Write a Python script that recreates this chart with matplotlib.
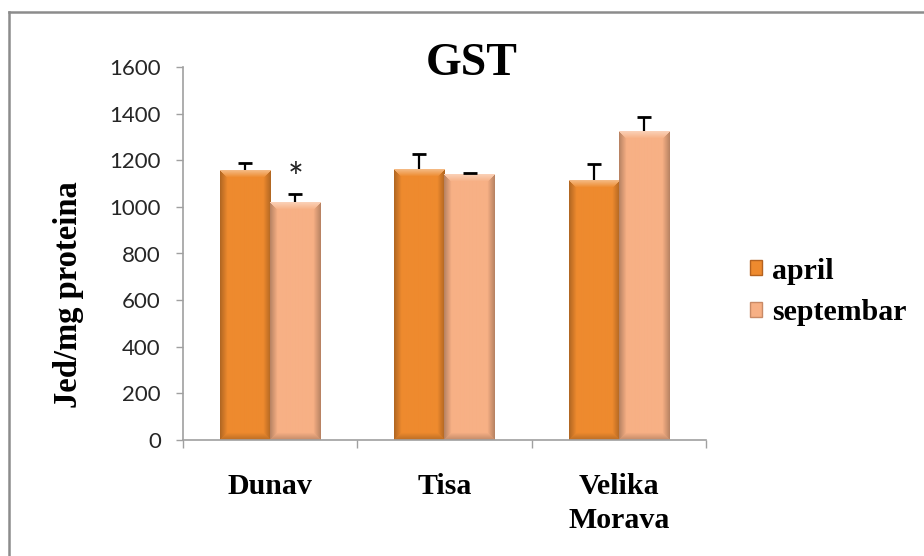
import numpy as np
import matplotlib
matplotlib.use("Agg")
import matplotlib.pyplot as plt
from matplotlib.lines import Line2D
from matplotlib.patches import Patch
from matplotlib.colors import to_rgb

categories = ["Dunav", "Tisa", "Velika\nMorava"]
april = [1158, 1162, 1115]
april_err = [32, 63, 68]
septembar = [1020, 1140, 1325]
septembar_err = [35, 5, 60]
series_names = ["april", "septembar"]
yticks = [0, 200, 400, 600, 800, 1000, 1200, 1400, 1600]

SERIF = "Liberation Serif"
SANS = "Lato"
C_APRIL = "#EE8A2E"
C_SEPT = "#F7B085"


def shade_bar(ax, bar, base, bev=7):
    # excel-like bevel: light top band, darker sides/bottom
    x0, y0 = bar.get_xy()
    w, h = bar.get_width(), bar.get_height()
    (px0, py0), (px1, py1) = ax.transData.transform([(x0, y0), (x0 + w, y0 + h)])
    nx, ny = max(int(round(px1 - px0)), 2), max(int(round(py1 - py0)), 2)
    xx = np.arange(nx)[None, :].astype(float)
    yy = np.arange(ny)[:, None].astype(float)
    side = np.minimum(xx, nx - 1 - xx) + 0 * yy
    top = yy + 0 * xx
    bot = (ny - 1 - yy) + 0 * xx
    base = np.array(to_rgb(base))
    img = np.tile(base, (ny, nx, 1))
    f = np.zeros((ny, nx))
    top_m = (top < bev) & (top <= side)
    f[top_m] = 0.4 * (1 - top[top_m] / bev)
    side_m = (side < bev) & ~top_m
    f[side_m] = -0.25 * (1 - side[side_m] / bev)
    bot_m = (bot < bev) & (bot <= side) & ~top_m
    f[bot_m] = -0.2 * (1 - bot[bot_m] / bev)
    light = f[..., None] > 0
    img = np.where(light, img + (1 - img) * f[..., None], img * (1 + f[..., None]))
    ax.imshow(np.clip(img, 0, 1), extent=(x0, x0 + w, y0, y0 + h),
              aspect="auto", zorder=2, interpolation="bilinear")


def upper_errorbar(ax, xs, ys, errs):
    eb = ax.errorbar(xs, ys, yerr=[np.zeros(len(errs)), errs], fmt="none",
                     ecolor="black", elinewidth=1.6, capsize=4.7, capthick=2, zorder=3)
    # hide the lower cap that sits on the bar top
    eb[1][0].set_visible(False)
    return eb


def main():
    fig = plt.figure(figsize=(9.24, 5.56), dpi=100)
    ax = fig.add_axes([183 / 924, 116 / 556, 523 / 924, 373 / 556])

    x = np.arange(len(categories))
    width = 0.287

    b1 = ax.bar(x - width / 2, april, width, color=C_APRIL, zorder=1,
                label=series_names[0])
    b2 = ax.bar(x + width / 2, septembar, width, color=C_SEPT, zorder=1,
                label=series_names[1])
    upper_errorbar(ax, x - width / 2, april, april_err)
    upper_errorbar(ax, x + width / 2, septembar, septembar_err)

    ax.set_xlim(-0.5, len(categories) - 0.5)
    ax.set_ylim(0, 1600)

    for bar in b1:
        shade_bar(ax, bar, C_APRIL)
    for bar in b2:
        shade_bar(ax, bar, C_SEPT)

    # significance mark over Dunav september
    ax.annotate("*", (x[0] + width / 2, septembar[0] + septembar_err[0]),
                xytext=(0, -3), textcoords="offset points", ha="center", va="bottom",
                fontsize=27, family=SANS, color="#222222", zorder=4)

    for s in ["top", "right"]:
        ax.spines[s].set_visible(False)
    for s in ["left", "bottom"]:
        ax.spines[s].set_color("#A0A0A0")
        ax.spines[s].set_linewidth(1.2)

    ax.set_yticks(yticks)
    ax.set_yticklabels([str(v) for v in yticks], family=SANS, fontsize=16, color="#262626")
    ax.tick_params(axis="y", length=5, width=1, color="#A0A0A0", pad=11)

    ax.set_xticks(np.arange(len(categories) + 1) - 0.5)
    ax.set_xticklabels([])
    ax.tick_params(axis="x", which="major", length=6, width=1, color="#A0A0A0")
    ax.set_xticks(x, minor=True)
    ax.set_xticklabels(categories, minor=True, family=SERIF, fontweight="bold",
                       fontsize=21.5, linespacing=1.3)
    ax.tick_params(axis="x", which="minor", length=0, pad=24)

    ax.set_ylabel("Jed/mg proteina", family=SERIF, fontweight="bold", fontsize=23.5)
    ax.yaxis.set_label_coords(-0.19, 0.389)

    fig.text(472 / 924, 1 - 75 / 556, "GST", ha="center", va="baseline",
             family=SERIF, fontweight="bold", fontsize=33)

    handles = [Patch(facecolor=C_APRIL, edgecolor="#B5621F"),
               Patch(facecolor=C_SEPT, edgecolor="#C98A66")]
    fig.legend(handles, series_names, loc="center left",
               bbox_to_anchor=(750 / 924, 1 - 292 / 556), frameon=False,
               prop={"family": SERIF, "weight": "bold", "size": 21.5},
               handlelength=0.4, handleheight=0.4, handletextpad=0.33,
               labelspacing=0.5, borderpad=0, borderaxespad=0)

    # chart border (only top and left edges fall inside the image)
    fig.add_artist(Line2D([9 / 924, 1], [1 - 12 / 556] * 2, color="#8C8C8C", lw=1.8))
    fig.add_artist(Line2D([9 / 924] * 2, [0, 1 - 12 / 556], color="#8C8C8C", lw=1.8))

    fig.savefig("out.png", dpi=100)


if __name__ == "__main__":
    main()
